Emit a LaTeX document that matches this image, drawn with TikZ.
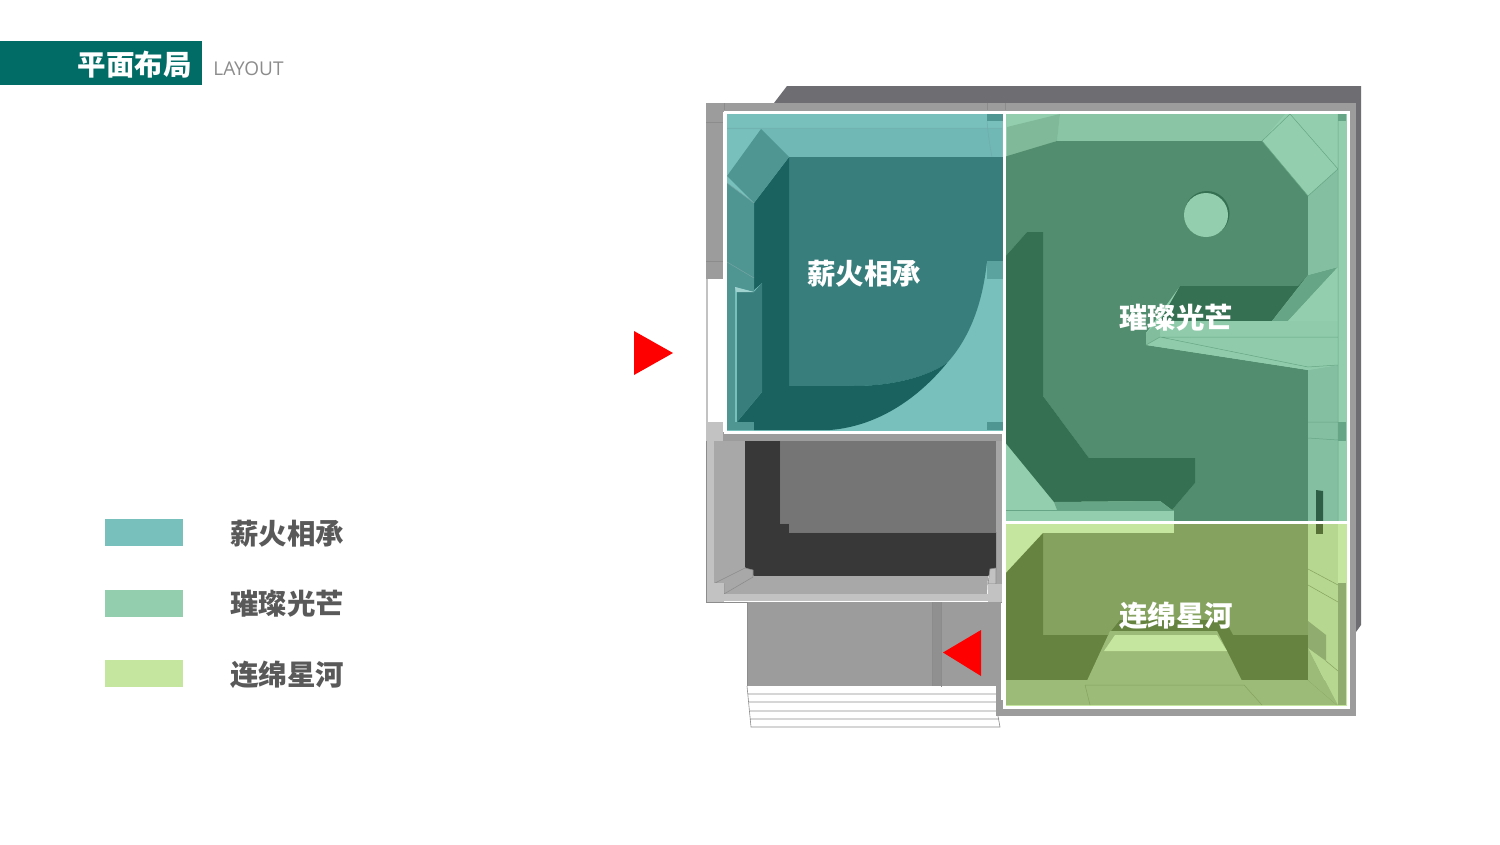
\documentclass[tikz,border=0pt]{standalone}
\usepackage{xcolor}
\usepackage{fontspec}
\setmainfont{Noto Sans CJK SC}
\newfontfamily\latinfont{Open Sans}
\definecolor{headteal}{HTML}{016C65}
\definecolor{mlwall}{HTML}{9C9C9C}
\definecolor{mlshadow}{HTML}{6E6D71}
\definecolor{mlpale}{HTML}{C2C2C2}
\definecolor{mlside}{HTML}{A8A8A8}
\definecolor{mlcoal}{HTML}{383838}
\definecolor{mlback}{HTML}{757575}
\definecolor{tealbase}{HTML}{78C0BC}
\definecolor{tealband}{HTML}{6FB8B5}
\definecolor{tealmid}{HTML}{4F9693}
\definecolor{tealface}{HTML}{387E7C}
\definecolor{tealdeep}{HTML}{1A6260}
\definecolor{jadebase}{HTML}{93CFAE}
\definecolor{jadeband}{HTML}{8AC5A6}
\definecolor{jadecorner}{HTML}{80B999}
\definecolor{jadeside}{HTML}{85BFA2}
\definecolor{jademid}{HTML}{66A585}
\definecolor{jadeface}{HTML}{528D6F}
\definecolor{jadedeep}{HTML}{367052}
\definecolor{limebase}{HTML}{C5E69E}
\definecolor{limeside}{HTML}{B6D78F}
\definecolor{limefloor}{HTML}{9DBB78}
\definecolor{limeface}{HTML}{85A35F}
\definecolor{limedeep}{HTML}{66843F}
\definecolor{mlred}{HTML}{FF0000}
\tikzset{
  roomlabel/.style={text=white, font=\fontsize{28.5}{30}\selectfont\bfseries, inner sep=0pt},
  keylabel/.style={text=black!65, font=\fontsize{28.5}{30}\selectfont\bfseries, inner sep=0pt},
  swatch/.style={minimum width=78pt, minimum height=27pt, inner sep=0pt, outer sep=0pt},
  wallline/.style={draw=black!45, line width=0.6pt},
  frameline/.style={draw=white, line width=3pt},
  pointer/.style={fill=mlred}
}
\begin{document}
\begin{tikzpicture}[x=1pt, y=-1pt]
\useasboundingbox (0,0) rectangle (1500,844);
\fill[white] (0,0) rectangle (1500,844);
% header
\fill[headteal] (0,41) rectangle (202,85);
\node[text=white, font=\fontsize{28.5}{30}\selectfont\bfseries, inner sep=0pt] (headtitle) at (134.5,64.5) {平面布局};
\node[text=black!45, font=\fontsize{19}{21}\selectfont\latinfont, inner sep=0pt] (headsub) at (248.5,68.5) {LAYOUT};
% legend
\node[swatch, fill=tealbase] (keyteal) at (144,532.5) {};
\node[swatch, fill=jadebase] (keyjade) at (144,603.5) {};
\node[swatch, fill=limebase] (keylime) at (144,673.5) {};
\node[keylabel] (textteal) at (287,533.5) {薪火相承};
\node[keylabel] (textjade) at (287,603.5) {璀璨光芒};
\node[keylabel] (textlime) at (287,674.5) {连绵星河};
% outer walls
\fill[mlshadow] (774,103) -- (787,86) -- (1361,86) -- (1361,625) -- (1356,632) -- (1340,632) -- (1340,103) -- cycle;
\fill[mlwall] (706,103) rectangle (1356,112);
\fill[mlwall] (706,103) rectangle (723,279);
\draw[black!45, line width=0.4pt] (706,122) -- (723,122) (706,261) -- (723,261) (724,103) -- (724,110) (987,103) -- (987,110) (1005,103) -- (1005,110);
\fill[mlpale] (706,279) rectangle (708,422);
\fill[mlpale] (706,422) rectangle (723,442);
\fill[mlwall] (1340,103) rectangle (1356,716);
\fill[mlwall] (996,700) rectangle (1356,716);
% grey room
\fill[mlwall] (723,432) rectangle (1002,441);
\fill[mlpale] (706,441) rectangle (714,584);
\fill[mlside] (714,441) rectangle (745,584);
\fill[mlpale!85!black] (996,441) rectangle (1002,584);
\fill[mlback] (780,441) rectangle (996,532);
\fill[mlcoal] (745,441) -- (780,441) -- (780,523) -- (789,523) -- (789,532) -- (996,532) -- (996,570) -- (988,576) -- (754,576) -- (745,567) -- cycle;
\fill[mlside] (754,576) -- (988,576) -- (987,594) -- (724,594) -- cycle;
\fill[mlside, wallline] (715,583) -- (745,568) -- (753,570) -- (753,577) -- (724,594) -- (724,584) -- cycle;
\fill[mlpale, wallline] (988,584) -- (990,569) -- (996,568) -- (996,584) -- cycle;
\fill[mlpale] (724,594) rectangle (988,601);
\fill[mlpale] (706,583) rectangle (724,602);
\fill[mlpale] (988,584) rectangle (1002,602);
\draw[wallline] (706,441) -- (706,602) -- (1002,602);
\draw[black!55, line width=1pt] (780,441) -- (780,523) -- (789,523) -- (789,532) -- (996,532);
% entrance and stairs
\fill[mlwall] (747,602) rectangle (996,686);
\fill[mlwall!92!black] (932,602) rectangle (941,686);
\draw[wallline] (932,602) -- (932,686) (941,602) -- (941,687) (747,602) -- (747,686);
\fill[mlwall] (996,602) rectangle (1001,716);
\draw[wallline] (747,686) -- (751,727) -- (1000,727) -- (998,716)
  (748,694) -- (996,694) (749,702) -- (996,702) (750,711) -- (996,711) (750,719) -- (999,719);
% room one
\fill[tealbase] (725,112) rectangle (1004,432);
\fill[tealband] (727,128) -- (1002,128) -- (1002,157) -- (789,157) -- (761,129) -- (727,129) -- cycle;
\draw[tealmid!80, line width=0.5pt] (727,128) -- (1002,128) (987,121) .. controls (988,135) and (990,146) .. (992,157);
\fill[tealface] (789,157) -- (1004,157) -- (1004,261) -- (987,261) .. controls (982,310) and (966,342) .. (947,363) .. controls (925,378) and (890,386) .. (853,386) -- (789,386) -- cycle;
\fill[tealdeep] (789,157) -- (754,203) -- (754,290) -- (762,283) -- (762,392) -- (737,422) -- (754,430) -- (830,430) .. controls (880,426) and (920,396) .. (947,363) .. controls (925,378) and (890,386) .. (853,386) -- (789,386) -- cycle;
\fill[tealmid] (727,176) -- (761,129) -- (789,157) -- (754,203) -- cycle;
\fill[tealmid] (727,183) -- (754,203) -- (754,292) -- (735,287) -- (727,282) -- cycle;
\draw[tealface!70, line width=0.5pt] (727,183) -- (754,203) (727,262) -- (754,278);
\fill[tealmid] (727,282) rectangle (735,430);
\fill[tealface] (737,292) -- (754,292) -- (762,283) -- (762,392) -- (737,422) -- cycle;
\fill[tealbase!70!white] (735,287) -- (754,292) -- (736,292) -- cycle;
\fill[tealmid] (727,422) rectangle (754,430);
\fill[tealmid] (987,114) rectangle (1004,121);
\fill[tealmid] (987,422) rectangle (1004,430);
\fill[tealmid!70!tealbase] (987,261) rectangle (1004,279);
% room two
\fill[jadebase] (1004,112) rectangle (1348,522);
\fill[jadeband] (1060,114) -- (1285,114) -- (1262,141) -- (1057,141) -- cycle;
\fill[jadecorner] (1007,127) -- (1060,114) -- (1057,141) -- (1007,157) -- cycle;
\fill[jadeface] (1004,157) -- (1057,141) -- (1262,141) -- (1308,196) -- (1308,275) -- (1298,286) -- (1180,286) -- (1146,333) -- (1146,345) -- (1308,370) -- (1308,522) -- (1174,522) -- (1172,510) -- (1195,483) -- (1195,458) -- (1089,458) -- (1043,396) -- (1043,232) -- (1027,232) -- (1004,258) -- cycle;
\fill[jadedeep] (1004,258) -- (1027,232) -- (1043,232) -- (1043,396) -- (1089,458) -- (1195,458) -- (1195,483) -- (1172,510) -- (1160,501) -- (1054,502) -- (1004,441) -- cycle;
\fill[jademid] (1054,502) -- (1160,501) -- (1172,510) -- (1057,510) -- cycle;
\fill[jadebase] (1004,510) rectangle (1174,522);
\draw[jademid, line width=0.5pt] (1004,510) -- (1174,510);
\fill[jadedeep] (1180,286) -- (1298,286) -- (1308,275) -- (1272,321) -- (1160,321) -- cycle;
\fill[jademid] (1308,275) -- (1338,267) -- (1288,321) -- (1272,321) -- cycle;
\fill[jadeside] (1308,196) -- (1338,169) -- (1338,267) -- (1308,275) -- cycle;
\fill[jadeside] (1308,370) -- (1338,365) -- (1338,522) -- (1308,522) -- cycle;
\fill[jadebase] (1288,321) -- (1338,267) -- (1338,321) -- cycle;
\draw[jademid, line width=0.5pt] (1262,141) -- (1290,114) -- (1338,169) -- (1308,196) -- cycle;
\fill[jadebase!70!jadeband] (1160,321) -- (1338,321) -- (1338,365) -- (1308,370) -- (1146,345) -- (1146,333) -- cycle;
\fill[jadeband!85!jadeface] (1146,333) -- (1160,321) -- (1160,337) -- (1146,345) -- cycle;
\draw[jademid, line width=0.5pt] (1160,337) -- (1338,337) (1146,345) -- (1160,337) -- (1308,367) -- (1338,365);
\fill[jadebase] (1338,114) rectangle (1346,522);
\draw[jademid, line width=0.5pt] (1338,114) -- (1338,522) (1308,422) -- (1338,422) (1308,438) -- (1338,440);
\fill[jademid] (1338,114) rectangle (1346,121);
\fill[jademid] (1338,422) rectangle (1346,441);
\fill[jadedeep!85!black] (1316,490) -- (1323,491) -- (1323,522) -- (1316,522) -- cycle;
\fill[jadedeep] (1207,213.5) circle (22.5);
\fill[jadebase] (1206,215) circle (22);
% room three
\fill[limebase] (1004,522) rectangle (1348,707);
\fill[limeface] (1174,522) -- (1308,522) -- (1308,635) -- (1043,635) -- (1043,533) -- (1174,533) -- cycle;
\fill[limedeep] (1004,575) -- (1043,533) -- (1043,635) -- (1308,635) -- (1308,680) -- (1004,680) -- cycle;
\fill[limedeep] (1108,635) -- (1120,620) -- (1225,620) -- (1233,635) -- cycle;
\fill[limefloor] (1004,680) rectangle (1338,705);
\fill[limefloor] (1110,631) -- (1217,631) -- (1244,685) -- (1085,685) -- cycle;
\fill[limebase] (1115,635) -- (1217,635) -- (1227,651) -- (1104,651) -- cycle;
\draw[limeface, line width=0.5pt] (1085,685) -- (1244,685) (1085,685) -- (1090,705) (1244,685) -- (1262,705) (1308,680) -- (1337,705);
\fill[limeside] (1308,522) -- (1338,522) -- (1338,705) -- (1308,648) -- cycle;
\fill[limefloor] (1308,648) -- (1337,705) -- (1308,680) -- cycle;
\draw[limeface, line width=0.5pt] (1308,569) -- (1338,585) (1308,585) -- (1338,602) (1326,661) -- (1338,671);
\fill[limeface!90!white] (1308,621) -- (1326,635) -- (1326,661) -- (1308,648) -- cycle;
\fill[limebase] (1338,522) rectangle (1346,583);
\fill[limeface!90!white] (1338,583) rectangle (1346,705);
\fill[limedeep!85!black] (1316,522) rectangle (1323,534);
% room frames
\draw[frameline] (725,112) rectangle (1004,432);
\draw[frameline] (1004,112) rectangle (1348,522);
\draw[frameline] (1004,522) rectangle (1348,707);
% room names
\node[roomlabel] (roomteal) at (864,273.5) {薪火相承};
\node[roomlabel] (roomjade) at (1176,317.5) {璀璨光芒};
\node[roomlabel] (roomlime) at (1176,615.5) {连绵星河};
% pointers
\fill[pointer] (634,331) -- (673,353) -- (634,375) -- cycle;
\fill[pointer] (981,630) -- (943,652.5) -- (981,676) -- cycle;
\end{tikzpicture}
\end{document}
